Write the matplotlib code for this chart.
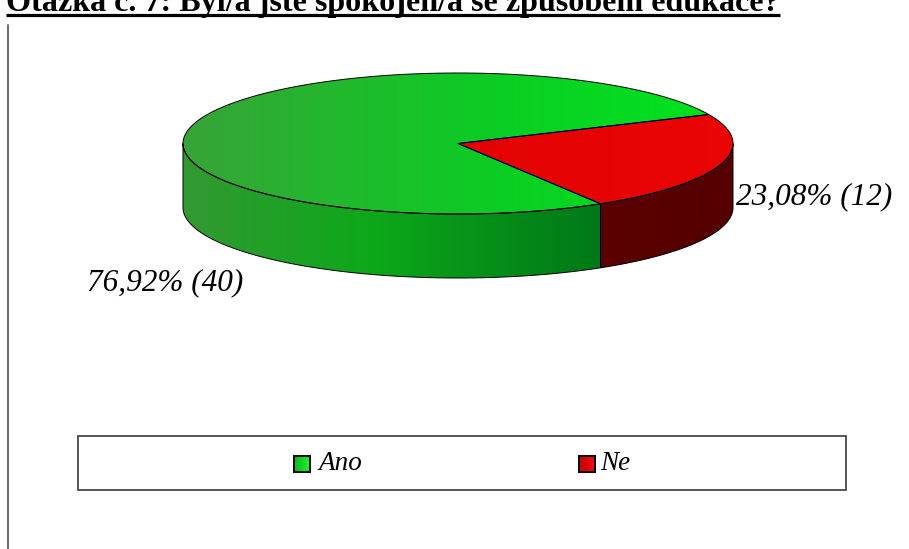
import numpy as np
import matplotlib
matplotlib.use("Agg")
import matplotlib.pyplot as plt
from matplotlib.patches import Polygon, Rectangle
from matplotlib.lines import Line2D

# Survey answers
title = "Otázka č. 7: Byl/a jste spokojen/a se způsobem edukace?"
categories = ["Ano", "Ne"]
counts = [40, 12]

W, H = 909, 549
fig = plt.figure(figsize=(W / 100, H / 100), dpi=100)
ax = fig.add_axes([0, 0, 1, 1])
ax.set_xlim(0, W)
ax.set_ylim(H, 0)
ax.axis("off")

SERIF = "Liberation Serif"

# Pie geometry (pixel space, y grows downward)
cx, cy = 458.0, 143.5
rx, ry = 275.0, 70.5
depth = 64.0
boundary_deg = 24.3   # edge between "Ano" and "Ne" on the back-right rim

total = float(sum(counts))
fracs = [c / total for c in counts]
span_ne = 360.0 * fracs[1]
ranges = {
    "Ne": (boundary_deg - span_ne, boundary_deg),
    "Ano": (boundary_deg, boundary_deg + 360.0 * fracs[0]),
}


def rim(t_deg, dy=0.0):
    t = np.radians(t_deg)
    return np.column_stack([cx + rx * np.cos(t), cy - ry * np.sin(t) + dy])


def gradient_fill(poly, stops, x0, x1, y0, y1, zorder=1):
    """Fill a polygon with a horizontal colour ramp."""
    xs = np.linspace(0, 1, 256)
    pos = [s[0] for s in stops]
    cols = np.array([s[1] for s in stops])
    img = np.stack([np.interp(xs, pos, cols[:, k]) for k in range(3)], axis=-1)
    img = img[np.newaxis, :, :]
    patch = Polygon(poly, closed=True, facecolor="none", edgecolor="none",
                    zorder=zorder)
    ax.add_patch(patch)
    im = ax.imshow(img, extent=(x0, x1, y1, y0), aspect="auto",
                   interpolation="bilinear", zorder=zorder)
    im.set_clip_path(patch)


x_left, x_right = cx - rx, cx + rx
top_y, bot_y = cy - ry, cy + ry + depth

side_styles = {
    "Ano": [(0.0, (0.20, 0.60, 0.20)), (0.45, (0.05, 0.66, 0.10)),
            (1.0, (0.00, 0.47, 0.09))],
    "Ne": [(0.0, (0.36, 0.00, 0.00)), (1.0, (0.33, 0.00, 0.00))],
}
top_styles = {
    "Ano": [(0.0, (0.22, 0.64, 0.22)), (0.55, (0.05, 0.80, 0.14)),
            (1.0, (0.00, 0.90, 0.12))],
    "Ne": [(0.0, (0.86, 0.00, 0.00)), (1.0, (0.92, 0.02, 0.02))],
}

# Front side walls (visible part lies between 180 and 360 degrees)
for name in categories:
    a0, a1 = ranges[name]
    if name == "Ne":
        lo, hi = a0 + 360.0, 360.0
    else:
        lo, hi = 180.0, a1
    ts = np.linspace(lo, hi, 200)
    upper = rim(ts)
    lower = rim(ts[::-1], depth)
    poly = np.vstack([upper, lower])
    gradient_fill(poly, side_styles[name], poly[:, 0].min(), poly[:, 0].max(),
                  top_y, bot_y, zorder=1)
    ax.add_patch(Polygon(poly, closed=True, facecolor="none",
                         edgecolor="black", linewidth=0.7, zorder=3))

# Top faces
for name in categories:
    a0, a1 = ranges[name]
    ts = np.linspace(a0, a1, 400)
    poly = np.vstack([[cx, cy], rim(ts)])
    gradient_fill(poly, top_styles[name], x_left, x_right, top_y, cy + ry,
                  zorder=2)
    ax.add_patch(Polygon(poly, closed=True, facecolor="none",
                         edgecolor="black", linewidth=0.7, zorder=3))


# Value labels
def label_text(n):
    pct = 100.0 * n / total
    return f"{pct:.2f}".replace(".", ",") + f"% ({n})"


label_pos = {"Ano": (87, 283), "Ne": (736, 197)}
for name, n in zip(categories, counts):
    x, y = label_pos[name]
    ax.text(x, y, label_text(n), family=SERIF, style="italic", fontsize=22.5,
            ha="left", va="center", color="black", zorder=5)

# Frame line on the left
ax.add_line(Line2D([7.5, 7.5], [25, H], color="#444444", linewidth=1.1))

# Legend box
ax.add_patch(Rectangle((78, 435.5), 768, 54.5, facecolor="white",
                       edgecolor="#3a3a3a", linewidth=1.2, zorder=4))
legend_items = {"Ano": (293.5, 318), "Ne": (578.5, 600)}
legend_fill = {
    "Ano": [(0.0, (0.05, 0.72, 0.10)), (1.0, (0.10, 0.95, 0.20))],
    "Ne": [(0.0, (0.78, 0.00, 0.00)), (1.0, (0.95, 0.05, 0.05))],
}
for name in categories:
    mx, tx = legend_items[name]
    sq = np.array([[mx, 455.5], [mx + 16, 455.5], [mx + 16, 471.5], [mx, 471.5]])
    gradient_fill(sq, legend_fill[name], mx, mx + 16, 455.5, 471.5, zorder=5)
    ax.add_patch(Polygon(sq, closed=True, facecolor="none", edgecolor="black",
                         linewidth=1.4, zorder=6))
    ax.text(tx, 464, name, family=SERIF, style="italic", fontsize=19.5,
            ha="left", va="center", color="black", zorder=6)

ax.set_xlim(0, W)
ax.set_ylim(H, 0)

# Title, partly above the top edge, underlined
t = ax.text(6, 11, title, family=SERIF, weight="bold", fontsize=21,
            ha="left", va="baseline", color="black", zorder=6)
fig.canvas.draw()
bb = t.get_window_extent()
t.set_fontsize(21 * 772.0 / bb.width)
fig.canvas.draw()
bb = t.get_window_extent()
ax.add_line(Line2D([bb.x0, bb.x1], [15.0, 15.0], color="black", linewidth=2.3,
                   solid_capstyle="butt", zorder=6))

fig.savefig("out.png", dpi=100)
